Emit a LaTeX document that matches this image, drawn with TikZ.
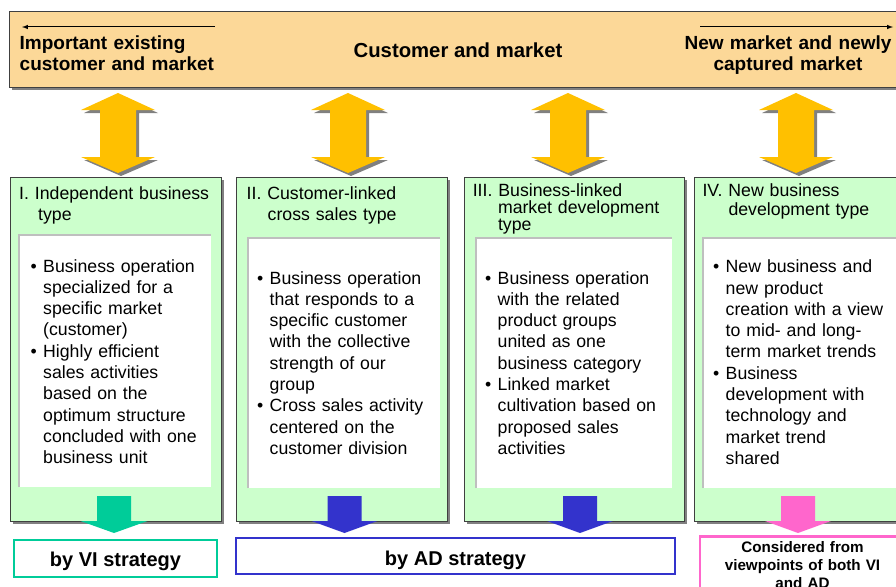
\documentclass[tikz,border=0pt]{standalone}
\usepackage{fontspec}
\setmainfont{Liberation Sans}
\usetikzlibrary{shadows}

\definecolor{bannerfill}{RGB}{252,216,152}
\definecolor{greenfill}{RGB}{204,255,204}
\definecolor{arrowylw}{RGB}{255,192,0}
\definecolor{vicol}{RGB}{0,204,153}
\definecolor{adcol}{RGB}{51,51,204}
\definecolor{bothcol}{RGB}{255,102,204}

% bullet with hanging indent; lines are broken with \newline, items end with \par
\newcommand{\itm}{\hangindent=12.5pt\hangafter=1\noindent\makebox[12.5pt][l]{\textbullet}}
\newcommand{\hng}[1]{\hangindent=#1pt\hangafter=1\noindent}

\begin{document}
\begin{tikzpicture}[x=1pt,y=-1pt,
	shd/.style={drop shadow={shadow xshift=3pt,shadow yshift=-3pt,fill=black!50,opacity=1}},
	colbox/.style={draw=black!75,line width=1pt,fill=greenfill,inner sep=0pt,minimum height=344,shd},
	txtbox/.style={fill=white,inner sep=0pt},
	ttl/.style={anchor=base west,inner sep=0pt,text width=205,font=\fontsize{17.7}{21}\selectfont},
	txt/.style={anchor=base west,inner sep=0pt,text width=205,font=\fontsize{17.7}{21.3}\selectfont},
	hd/.style={inner sep=0pt,font=\bfseries\fontsize{19}{20.7}\selectfont},
	strat/.style={fill=white,line width=2.5pt,inner sep=0pt,text depth=4.2,font=\bfseries\fontsize{20}{22}\selectfont}]

		\useasboundingbox (0,0) rectangle (896,586);
		\clip (0,0) rectangle (896,586);

		% customer and market band
		\node[draw=black!75,line width=1pt,fill=bannerfill,inner sep=0pt,
			minimum width=896,minimum height=75,shd] at (457,49.5)(band){};
		\node[hd,anchor=base west,text width=210] at (19.5,50)(old){Important existing\\customer and market};
		\node[hd,anchor=base,font=\bfseries\fontsize{20.3}{22}\selectfont] at (458,57)(cm){Customer and market};
		\node[hd,anchor=base,text width=220,align=center] at (788,50)(new){New market and newly\\captured market};

		\coordinate (la) at (215,27);
		\coordinate (lb) at (22,27);
		\coordinate (ra) at (700,27);
		\coordinate (rb) at (893,27);
		\draw[-latex,line width=1pt] (la) -- (lb);
		\draw[-latex,line width=1pt] (ra) -- (rb);

		\foreach \x in {118,348,568,796}
			\fill[arrowylw,shd] (\x,93) -- ++(37,17) -- ++(-19,0) -- ++(0,47) -- ++(19,0)
				-- ++(-37,16) -- ++(-37,-16) -- ++(19,0) -- ++(0,-47) -- ++(-19,0) -- cycle;

		% the four business types
		\node[colbox,minimum width=211] at (115.5,349)(c1){};
		\node[colbox,minimum width=211] at (341.5,349)(c2){};
		\node[colbox,minimum width=220] at (574,349)(c3){};
		\node[colbox,minimum width=211] at (799.5,349)(c4){};

		\node[txtbox,minimum width=192,minimum height=252] at (115,361)(w1){};
		\node[txtbox,minimum width=192,minimum height=250] at (344,363)(w2){};
		\node[txtbox,minimum width=196,minimum height=250] at (574,363)(w3){};
		\node[txtbox,minimum width=202,minimum height=250] at (804,363)(w4){};
		\foreach \n in {w1,w2,w3,w4}
			\draw[black!25,line width=1.5pt] (\n.south west) -- (\n.north west) -- (\n.north east);

		\node[ttl] at (19,199)(t1){\hng{19}I. Independent business\newline type\par};
		\node[ttl] at (246.5,199)(t2){\hng{21}II. Customer-linked\newline cross sales type\par};
		\node[ttl,font=\fontsize{17.7}{16.7}\selectfont] at (472.6,196.7)(t3)
			{\hng{25.2}III. Business-linked\newline market development\newline type\par};
		\node[ttl,font=\fontsize{17.7}{18.3}\selectfont] at (702.3,196.7)(t4)
			{\hng{26}IV. New business\newline development type\par};

		\node[txt] at (30.5,272)(b1){\itm Business operation\newline specialized for a\newline specific market\newline (customer)\par
			\itm Highly efficient\newline sales activities\newline based on the\newline optimum structure\newline concluded with one\newline business unit\par};
		\node[txt] at (257,284)(b2){\itm Business operation\newline that responds to a\newline specific customer\newline with the collective\newline strength of our\newline group\par
			\itm Cross sales activity\newline centered on the\newline customer division\par};
		\node[txt] at (485,284)(b3){\itm Business operation\newline with the related\newline product groups\newline united as one\newline business category\par
			\itm Linked market\newline cultivation based on\newline proposed sales\newline activities\par};
		\node[txt] at (713,272.7)(b4){\itm New business and\newline new product\newline creation with a view\newline to mid- and long-\newline term market trends\par
			\itm Business\newline development with\newline technology and\newline market trend\newline shared\par};

		% strategies
		\fill[vicol] (97,496) -- ++(34,0) -- ++(0,25) -- ++(16.5,0) -- ++(-33.5,12) -- ++(-33.5,-12) -- ++(16.5,0) -- cycle;
		\fill[adcol] (327.5,496) -- ++(34,0) -- ++(0,25) -- ++(16,0) -- ++(-33,12) -- ++(-33,-12) -- ++(16,0) -- cycle;
		\fill[adcol] (563,496) -- ++(34,0) -- ++(0,25) -- ++(16,0) -- ++(-33,12) -- ++(-33,-12) -- ++(16,0) -- cycle;
		\fill[bothcol] (781,496) -- ++(34,0) -- ++(0,25) -- ++(16,0) -- ++(-33,12) -- ++(-33,-12) -- ++(16,0) -- cycle;

		\node[strat,draw=vicol,minimum width=203,minimum height=37,text height=20.6] at (115.5,558.5)(vi){by VI strategy};
		\node[strat,draw=adcol,minimum width=439,minimum height=36,text height=22.2] at (455.5,556)(ad){by AD strategy};
		\node[draw=bothcol,fill=white,line width=2.5pt,anchor=north,text width=190,align=center,
			inner xsep=7.5pt,inner ysep=5.5pt,font=\bfseries\fontsize{15.2}{18}\selectfont]
			at (802.5,535)(both){Considered from\\viewpoints of both VI\\and AD};
\end{tikzpicture}
\end{document}
